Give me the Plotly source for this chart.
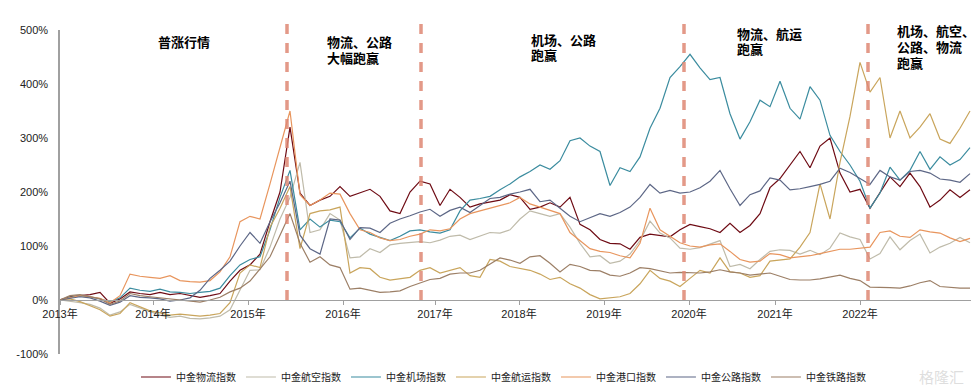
import plotly.graph_objects as go

# sample index along the time axis (roughly fortnightly trading samples)
t = list(range(92))

series_names = ["中金物流指数", "中金航空指数", "中金机场指数", "中金航运指数",
                "中金港口指数", "中金公路指数", "中金铁路指数"]

logistics = [0, 6, 8, 10, 14, -6, 2, 15, 12, 10, 14, 10, 12, 8, 5, 8, 12, 35, 55, 65,
             85, 145, 200, 320, 198, 175, 185, 192, 210, 192, 198, 205, 192, 165, 160, 200, 220, 215, 175, 205,
             190, 172, 178, 182, 185, 195, 190, 168, 172, 180, 172, 190, 140, 130, 112, 105, 104, 94, 116, 122,
             120, 117, 130, 140, 136, 132, 125, 142, 125, 138, 160, 208, 225, 250, 275, 245, 285, 300, 235, 200,
             205, 170, 198, 228, 210, 235, 210, 172, 185, 204, 190, 204]
aviation = [0, -2, -5, -8, -15, -28, -22, -8, -15, -22, -28, -32, -30, -34, -35, -33, -30, -18, 20, 55,
            56, 98, 150, 190, 255, 125, 130, 160, 148, 78, 80, 95, 88, 102, 105, 107, 108, 106, 111, 118,
            120, 112, 118, 125, 124, 130, 150, 165, 160, 155, 160, 135, 105, 80, 82, 68, 72, 85, 110, 146,
            124, 115, 96, 94, 97, 104, 110, 62, 66, 58, 75, 90, 93, 92, 85, 92, 84, 96, 124, 117,
            112, 76, 86, 117, 93, 110, 122, 87, 98, 105, 116, 106]
airport = [0, 5, 8, 6, 2, -4, 4, 22, 18, 16, 20, 15, 14, 12, 14, 16, 22, 45, 65, 75,
           80, 130, 190, 240, 130, 150, 135, 148, 145, 115, 133, 122, 116, 110, 118, 128, 130, 126, 124, 130,
           165, 185, 188, 192, 204, 215, 228, 238, 250, 242, 258, 295, 300, 285, 275, 212, 245, 238, 265, 318,
           355, 412, 432, 455, 430, 408, 412, 345, 298, 330, 370, 358, 405, 355, 335, 395, 370, 305, 275, 250,
           220, 170, 198, 246, 222, 240, 275, 242, 265, 250, 260, 282]
shipping = [0, 2, -3, -10, -18, -30, -25, -5, -12, -20, -24, -28, -26, -28, -30, -28, -25, -5, 50, 65,
            60, 135, 170, 210, 95, 160, 165, 167, 172, 50, 60, 58, 42, 37, 40, 42, 55, 60, 50, 55,
            60, 45, 42, 75, 72, 62, 58, 55, 48, 38, 42, 30, 22, 10, 2, 4, 6, 12, 30, 55,
            40, 35, 25, 40, 55, 50, 78, 52, 50, 42, 45, 72, 74, 76, 98, 125, 215, 150, 255, 340,
            440, 385, 412, 300, 350, 300, 320, 345, 298, 290, 318, 350]
port = [0, 4, 8, 6, 3, -5, 8, 48, 44, 42, 40, 45, 36, 34, 33, 36, 52, 80, 145, 155,
        150, 215, 280, 350, 195, 175, 185, 198, 196, 160, 130, 125, 115, 110, 112, 118, 122, 130, 128, 132,
        150, 160, 165, 170, 175, 180, 190, 178, 172, 166, 160, 125, 110, 95, 90, 88, 82, 78, 105, 170,
        130, 118, 106, 100, 98, 102, 104, 90, 75, 70, 72, 86, 84, 78, 80, 82, 86, 90, 94, 94,
        96, 98, 125, 128, 118, 116, 130, 126, 124, 115, 108, 114]
highway = [0, 3, 6, 4, -2, -10, -4, 8, 5, 4, 2, -2, 0, 4, 18, 40, 55, 72, 100, 125,
           105, 145, 180, 220, 120, 95, 85, 150, 148, 112, 134, 133, 125, 142, 150, 156, 163, 168, 155, 166,
           172, 162, 175, 188, 190, 196, 200, 205, 182, 185, 170, 155, 145, 152, 160, 155, 162, 172, 190, 214,
           198, 203, 198, 200, 208, 220, 240, 206, 175, 195, 202, 226, 222, 204, 206, 210, 214, 220, 244, 236,
           225, 214, 240, 228, 222, 238, 240, 235, 224, 222, 218, 234]
railway = [0, 8, 10, 6, 2, -8, -2, 12, 8, 6, 4, 2, 0, -2, -4, 0, 5, 15, 22, 35,
           58, 80, 120, 160, 105, 70, 80, 65, 60, 20, 22, 18, 14, 15, 17, 25, 31, 38, 40, 48,
           50, 50, 55, 66, 78, 74, 68, 80, 82, 68, 52, 66, 62, 55, 54, 46, 44, 50, 60, 58,
           54, 50, 51, 50, 50, 52, 56, 52, 50, 46, 48, 50, 44, 38, 37, 37, 39, 42, 46, 40,
           36, 24, 24, 23, 22, 26, 32, 36, 25, 23, 22, 22]

series_values = [logistics, aviation, airport, shipping, port, highway, railway]
series_colors = ["#6E0B14", "#BFBBAA", "#3B8C9F", "#C9A55C", "#E8955D", "#5D6786", "#9C7F66"]

year_labels = ["2013年", "2014年", "2015年", "2016年", "2017年", "2018年",
               "2019年", "2020年", "2021年", "2022年"]
year_ticks = [0, 9.3, 18.8, 28.3, 37.5, 45.9, 54.4, 62.9, 71.5, 80.0]

event_t = [22.7, 36.1, 62.4, 80.8]
phase_texts = ["普涨行情", "物流、公路<br>大幅跑赢", "机场、公路<br>跑赢",
               "物流、航运<br>跑赢", "机场、航空、<br>公路、物流<br>跑赢"]
phase_t = [12.4, 26.6, 47.0, 67.6, 83.6]
phase_y = [0.963, 0.963, 0.972, 0.99, 0.997]   # first-line centre (paper)
phase_anchor = ["center", "left", "left", "left", "left"]
LINE_STEP = 0.0485

FONT = "Liberation Sans, Arial, Noto Sans CJK SC, sans-serif"
CJK_BOLD = "Noto Sans CJK SC, sans-serif"

fig = go.Figure()
for name, vals, col in zip(series_names, series_values, series_colors):
    fig.add_trace(go.Scatter(x=t, y=vals, name=name, mode="lines",
                             line=dict(color=col, width=1.2)))

for et in event_t:
    fig.add_shape(type="line", xref="x", yref="paper", x0=et, x1=et,
                  y0=1/6, y1=1.043,
                  line=dict(color="rgba(222,135,115,0.85)", width=3.5, dash="10px,9px"))

for txt, px, py, anc in zip(phase_texts, phase_t, phase_y, phase_anchor):
    for k, line_txt in enumerate(txt.split("<br>")):
        fig.add_annotation(x=px, y=py - k * LINE_STEP, xref="x", yref="paper",
                           text="<b>" + line_txt + "</b>",
                           showarrow=False, xanchor=anc, yanchor="middle", align="left",
                           borderpad=0,
                           font=dict(family=CJK_BOLD, size=13, color="#000000"))

fig.add_annotation(x=0.99, y=-0.07, xref="paper", yref="paper", text="格隆汇",
                   showarrow=False, xanchor="right", yanchor="middle",
                   font=dict(family=CJK_BOLD, size=15, color="rgba(200,200,200,0.6)"))

# the page body adds an 8px offset, so the figure is sized to fit inside 979x390
fig.update_layout(
    width=971, height=382,
    margin=dict(l=52, r=4, t=22, b=36, autoexpand=False),
    paper_bgcolor="white", plot_bgcolor="white",
    font=dict(family=FONT, size=11, color="#222222"),
    showlegend=True,
    legend=dict(orientation="h", x=0.083, y=-0.071, xanchor="left", yanchor="middle",
                font=dict(family=FONT, size=10, color="#222222"),
                itemwidth=30, tracegroupgap=0, bgcolor="rgba(0,0,0,0)"),
    xaxis=dict(range=[0, 91.5], tickvals=year_ticks, ticktext=year_labels,
               showgrid=False, zeroline=False, showline=True, linecolor="#A0A0A0",
               linewidth=1, ticks="outside", ticklen=4, tickcolor="#A0A0A0",
               anchor="free", position=1/6, automargin=False,
               tickfont=dict(size=11, color="#222222")),
    yaxis=dict(range=[-100, 500], tickvals=[-100, 0, 100, 200, 300, 400, 500],
               ticktext=["-100%", "0%", "100%", "200%", "300%", "400%", "500%"],
               showgrid=False, zeroline=False, showline=True, linecolor="#A0A0A0",
               linewidth=1.5, ticks="", ticklabelstandoff=8, automargin=False,
               tickfont=dict(size=11, color="#222222")),
)

fig.write_html("out.html")
